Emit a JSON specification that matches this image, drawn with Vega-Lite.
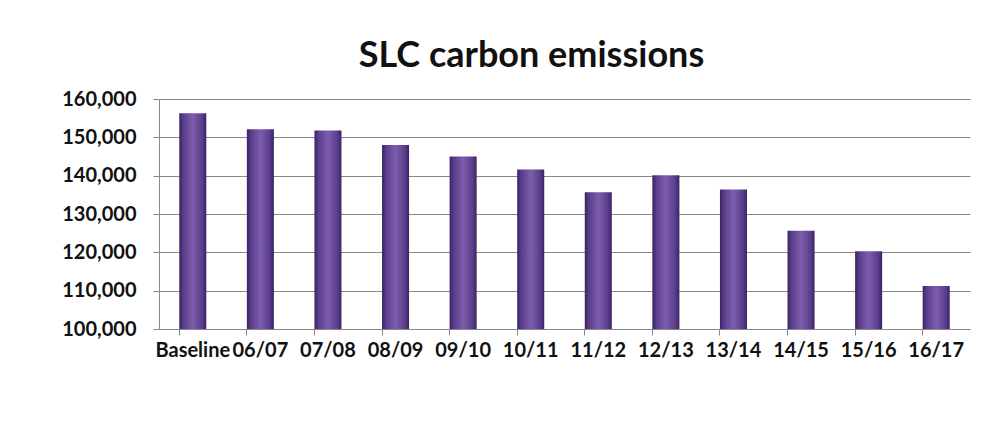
{
  "$schema": "https://vega.github.io/schema/vega-lite/v6.json",
  "width": 811,
  "height": 230,
  "autosize": {"type": "none"},
  "padding": {"left": 159, "top": 99, "right": 33, "bottom": 117},
  "background": "white",
  "title": {
    "text": "SLC carbon emissions",
    "font": "Lato",
    "fontSize": 36,
    "fontWeight": "bold",
    "color": "#111111",
    "anchor": "middle",
    "dx": -33,
    "offset": 14
  },
  "data": {
    "values": [
      {"period": "Baseline", "emissions": 156300},
      {"period": "06/07", "emissions": 152100},
      {"period": "07/08", "emissions": 151800},
      {"period": "08/09", "emissions": 148000},
      {"period": "09/10", "emissions": 145000},
      {"period": "10/11", "emissions": 141600},
      {"period": "11/12", "emissions": 135700},
      {"period": "12/13", "emissions": 140100},
      {"period": "13/14", "emissions": 136400},
      {"period": "14/15", "emissions": 125600},
      {"period": "15/16", "emissions": 120300},
      {"period": "16/17", "emissions": 111200}
    ]
  },
  "mark": {
    "type": "bar",
    "color": {
      "gradient": "linear",
      "x1": 0, "x2": 1, "y1": 0, "y2": 0,
      "stops": [
        {"offset": 0, "color": "#3a2262"},
        {"offset": 0.15, "color": "#5a3d8a"},
        {"offset": 0.5, "color": "#7d5eae"},
        {"offset": 0.85, "color": "#5a3d8a"},
        {"offset": 1, "color": "#3a2262"}
      ]
    }
  },
  "encoding": {
    "x": {
      "field": "period",
      "type": "nominal",
      "sort": null,
      "scale": {"paddingInner": 0.6, "paddingOuter": 0.3},
      "axis": {
        "title": null,
        "labelAngle": 0,
        "bandPosition": 0,
        "labelFont": "Lato",
        "labelFontSize": 20,
        "labelFontWeight": "bold",
        "labelColor": "#111111",
        "labelPadding": 5,
        "tickSize": 6,
        "tickColor": "#888888",
        "domainColor": "#888888",
        "labelOverlap": false
      }
    },
    "y": {
      "field": "emissions",
      "type": "quantitative",
      "scale": {"domain": [100000, 160000], "zero": false, "nice": false},
      "axis": {
        "title": null,
        "values": [100000, 110000, 120000, 130000, 140000, 150000, 160000],
        "format": ",d",
        "labelFont": "Lato",
        "labelFontSize": 20,
        "labelFontWeight": "bold",
        "labelColor": "#111111",
        "labelPadding": 17,
        "tickSize": 6,
        "tickColor": "#888888",
        "domainColor": "#888888",
        "gridColor": "#888888",
        "gridOpacity": 1
      }
    },
    "y2": {"datum": 100000}
  },
  "config": {
    "view": {"stroke": null}
  }
}
